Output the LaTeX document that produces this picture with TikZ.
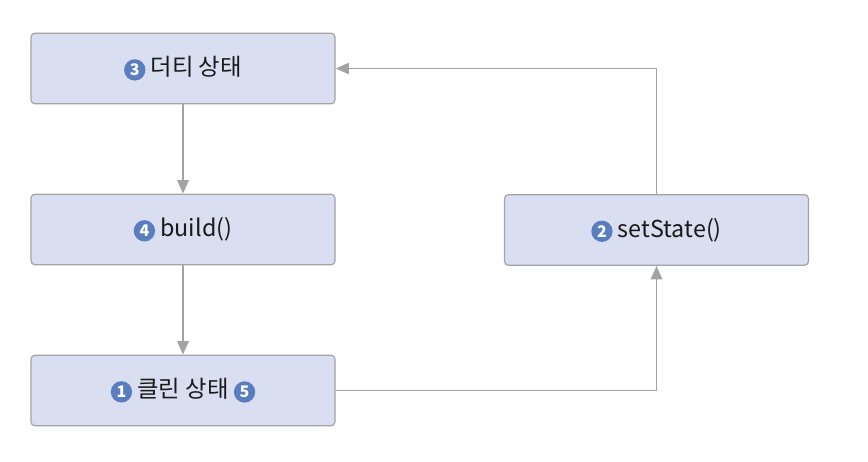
\documentclass[tikz,border=0pt]{standalone}
\usepackage{fontspec}
\setmainfont{Noto Sans CJK KR}
\usetikzlibrary{arrows.meta}
\definecolor{boxfill}{HTML}{D9DEF0}
\definecolor{boxline}{HTML}{A3A3A8}
\definecolor{conn}{HTML}{A3A3A3}
\definecolor{badgec}{HTML}{5A7DC0}
\definecolor{txt}{HTML}{1A1A1A}
\newcommand{\badge}[1]{\tikz[baseline={(bb.base)}]\node[circle,fill=badgec,inner sep=0pt,minimum size=16pt,text=white,font=\fontsize{12}{12}\selectfont\bfseries](bb){#1};}
\begin{document}
\begin{tikzpicture}[x=0.75pt,y=-0.75pt,
  stepbox/.style={draw=boxline,line width=0.9pt,fill=boxfill,rounded corners=3pt,minimum width=228pt,minimum height=53pt,inner sep=0pt,text=txt,font=\fontsize{17.5}{20}\selectfont},
  conn/.style={draw=conn,line width=1.4pt,-{Triangle[length=10pt,width=8.5pt]}}]
\useasboundingbox (0,0) rectangle (868,461);
\node[stepbox] (dirty) at (183,68.5) {\badge{3}\hspace{4pt}더티 상태};
\node[stepbox] (build) at (183,229.5) {\badge{4}\hspace{4pt}build()};
\node[stepbox] (clean) at (183,390.5) {\badge{1}\hspace{4pt}클린 상태\hspace{4pt}\badge{5}};
\node[stepbox] (set) at (656.5,230) {\badge{2}\hspace{4pt}setState()};
\draw[conn] (dirty.south) -- (build.north);
\draw[conn] (build.south) -- (clean.north);
\draw[conn] (clean.east) -| (set.south);
\draw[conn] (set.north) |- (dirty.east);
\end{tikzpicture}
\end{document}
